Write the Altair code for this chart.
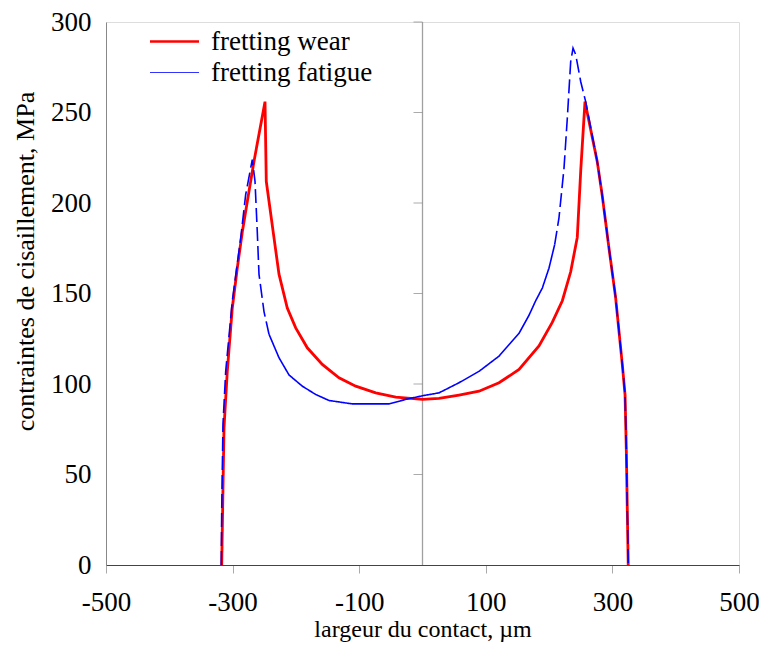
import altair as alt
import pandas as pd

# ---- data ----
red_x = [-317.2, -313.6, -308.4, -300.5, -292.6, -284.7, -274.1, -266.2, -248.8,
         -246.8, -234.6, -226.7, -213.6, -200.3, -182, -158.3, -131.9, -105.5, -73.9, -42.3,
         0, 26, 57.7, 89.3, 120.9, 152.5, 184, 205, 220.9, 234.1, 244.5, 250, 256.7,
         276, 284, 294.6, 305, 315.6, 320, 322, 325]
red_y = [0, 75.8, 107, 142, 164, 184, 206.5, 223, 256,
         212, 180.7, 160.7, 142, 131, 120, 110.8, 103.4, 98.8, 95.1, 92.8,
         91.5, 92, 93.9, 96, 100.7, 108, 121, 134, 146, 162, 181, 218, 256,
         223, 204, 175, 148, 111, 94, 63, 0]

blue_x = [-317.9, -317.2, -315.2, -310.9, -300.5, -287.2, -279.3, -268.9,
          -264.6, -261, -258.3, -250.4, -242.5,
          -226.7, -210.9, -189.9, -168.7, -147.7, -110.9, -52.9, -26.5,
          0, 26, 57.7, 89.3, 120.9, 152.5, 168.3, 178.8, 189.3, 199.8, 208.8,
          215.6, 223.5, 228.8, 234.1, 237.8, 242, 250, 257.8,
          276, 284, 294.6, 305, 315.6, 320, 322, 325]
blue_y = [0, 29.8, 77.8, 107, 145.8, 180.7, 204.7, 224,
          212, 184, 160.6, 140, 127.5,
          114.5, 105, 98.8, 94.2, 90.9, 89, 89, 91.5,
          93.5, 95.1, 100.7, 107, 115.4, 128, 138, 146, 153, 164, 177,
          191.8, 219, 247, 278, 285.6, 282, 267, 256,
          223, 204, 175, 148, 111, 94, 63, 0]
# index ranges of the blue curve drawn dashed / solid
blue_parts = [(0, 12, "dashed"), (12, 31, "solid"), (31, 47, "dashed")]

series_names = ["fretting wear", "fretting fatigue"]
x_ticks = [-500, -300, -100, 100, 300, 500]
y_ticks = [0, 50, 100, 150, 200, 250, 300]
center_ticks = [50, 100, 150, 200, 250, 300]

FONT = "Liberation Serif"
FS = 27

red_df = pd.DataFrame({"i": range(len(red_x)), "x": red_x, "y": red_y})
rows = []
for k, (a, b, style) in enumerate(blue_parts):
    for j in range(a, b + 1):
        rows.append({"i": j, "x": blue_x[j], "y": blue_y[j], "part": f"p{k}", "style": style})
blue_df = pd.DataFrame(rows)

xscale = alt.Scale(domain=[-500, 500], nice=False, zero=False)
yscale = alt.Scale(domain=[0, 300], nice=False)

xenc = alt.X("x:Q", scale=xscale,
             axis=alt.Axis(values=x_ticks, title="largeur du contact, µm", grid=False,
                           labelExpr="datum.value + ''",
                           labelFlush=False, labelOverlap=False, tickSize=8,
                           tickColor="#aaaaaa", domainColor="#444444",
                           labelPadding=16, titleY=52.5, labelFontSize=FS, titleFontSize=24,
                           labelFont=FONT, titleFont=FONT, titleFontWeight="normal",
                           labelColor="black", titleColor="black"))
yenc = alt.Y("y:Q", scale=yscale,
             axis=alt.Axis(values=y_ticks, title="contraintes de cisaillement, MPa", grid=False,
                           ticks=False, tickSize=0, labelPadding=15, domainColor="#888888",
                           titleX=-68, titleY=239, labelFontSize=FS, titleFontSize=26,
                           labelFont=FONT, titleFont=FONT, titleFontWeight="normal",
                           labelColor="black", titleColor="black"))

red_line = alt.Chart(red_df).mark_line(color="#ff0000", strokeWidth=2.8).encode(
    x=xenc, y=yenc, order="i:Q")

blue_line = alt.Chart(blue_df).mark_line(color="#0000ff", strokeWidth=1.6).encode(
    x=alt.X("x:Q", scale=xscale),
    y=alt.Y("y:Q", scale=yscale),
    detail="part:N",
    order="i:Q",
    strokeDash=alt.StrokeDash("style:N",
                              scale=alt.Scale(domain=["dashed", "solid"], range=[[14, 5], [1, 0]]),
                              legend=None))

center_df = pd.DataFrame({"x": [0], "y": [0], "y2": [300]})
center_line = alt.Chart(center_df).mark_rule(color="#a0a0a0", strokeWidth=1.3).encode(
    x=alt.X("x:Q", scale=xscale), y=alt.Y("y:Q", scale=yscale), y2="y2:Q")

ct_df = pd.DataFrame({"x": [0] * len(center_ticks), "y": center_ticks})
center_tick = alt.Chart(ct_df).mark_tick(orient="horizontal", size=9, thickness=1,
                                         color="#888888", xOffset=-4.5).encode(
    x=alt.X("x:Q", scale=xscale), y=alt.Y("y:Q", scale=yscale))

# legend (drawn by hand, top-left inside the plot)
leg_red = alt.Chart(center_df).mark_rule(color="#ff0000", strokeWidth=2.5).encode(
    x=alt.value(44), x2=alt.value(93), y=alt.value(19.5))
leg_blue = alt.Chart(center_df).mark_rule(color="#3333ff", strokeWidth=1).encode(
    x=alt.value(44), x2=alt.value(93), y=alt.value(50.5))
leg_t1 = alt.Chart(center_df).mark_text(align="left", baseline="alphabetic", font=FONT,
                                        fontSize=FS, color="black").encode(
    x=alt.value(105), y=alt.value(28), text=alt.value(series_names[0]))
leg_t2 = alt.Chart(center_df).mark_text(align="left", baseline="alphabetic", font=FONT,
                                        fontSize=FS, color="black").encode(
    x=alt.value(105), y=alt.value(59), text=alt.value(series_names[1]))

chart = alt.layer(center_line, center_tick, red_line, blue_line,
                  leg_red, leg_blue, leg_t1, leg_t2).properties(
    width=633, height=543,
    padding={"left": 98, "top": 14, "right": 20, "bottom": 77},
    autosize=alt.AutoSizeParams(type="none"),
).configure_view(stroke="#888888", strokeWidth=1).configure(background="white")

chart.save("out.html", embed_options={"renderer": "svg", "actions": False})
